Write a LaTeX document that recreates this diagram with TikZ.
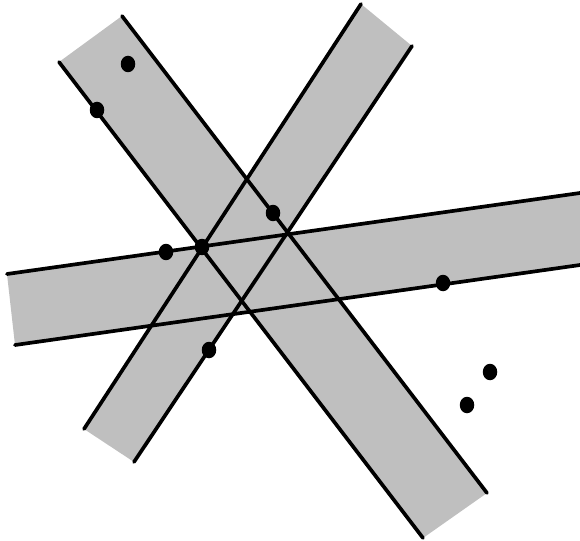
\documentclass[tikz,border=0pt]{standalone}
\usepackage{tikz}
\definecolor{StripGray}{HTML}{BFBFBF}
\tikzset{
  edge/.style={line width=2.1pt, line cap=round},
  dot/.style={fill=black}
}

\begin{document}
\begin{tikzpicture}[x=0.02cm, y=-0.02cm]
  \useasboundingbox (0,0) rectangle (580,540);
  %% corners of the falling strip
  \coordinate (a1) at (59,62);
  \coordinate (a2) at (122,16);
  \coordinate (a3) at (487,493);
  \coordinate (a4) at (423,538);
  %% corners of the rising strip
  \coordinate (b1) at (84,429);
  \coordinate (b2) at (361,4);
  \coordinate (b3) at (412,46);
  \coordinate (b4) at (134,462);
  %% corners of the flat strip
  \coordinate (c1) at (7,274);
  \coordinate (c2) at (580,193);
  \coordinate (c3) at (580,265);
  \coordinate (c4) at (15,345);
  %% shaded strips
  \fill[StripGray] (a1) -- (a2) -- (a3) -- (a4) -- cycle;
  \fill[StripGray] (b1) -- (b2) -- (b3) -- (b4) -- cycle;
  \fill[StripGray] (c1) -- (c2) -- (c3) -- (c4) -- cycle;
  %% strip edges
  \draw[edge] (a1) -- (a4);
  \draw[edge] (a2) -- (a3);
  \draw[edge] (b1) -- (b2);
  \draw[edge] (b4) -- (b3);
  \draw[edge] (c1) -- (c2);
  \draw[edge] (c4) -- (c3);
  %% points
  \foreach \p in {(128,64), (97,110), (166,252), (202,247), (273,213),
                  (443,283), (209,350), (490,372), (467,405)}
    \fill[dot] \p ellipse (0.145cm and 0.165cm);
\end{tikzpicture}
\end{document}
